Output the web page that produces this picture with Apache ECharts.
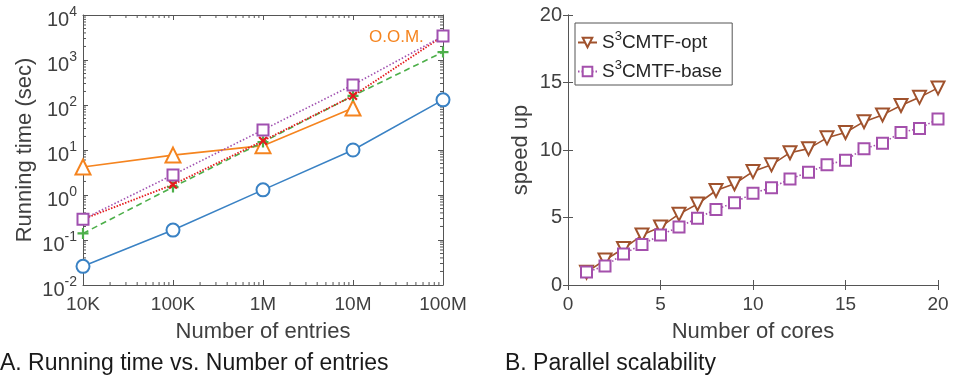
<!DOCTYPE html>
<html>
<head>
<meta charset="utf-8">
<script src="https://cdn.jsdelivr.net/npm/echarts@6/dist/echarts.min.js"></script>
<style>
  html, body { margin: 0; padding: 0; background: #fff; }
  #chart { width: 963px; height: 381px; }
</style>
</head>
<body>
<div id="chart"></div>
<script>
// Panel A: running time (sec) vs number of entries (log-log)
const entries = [1e4, 1e5, 1e6, 1e7, 1e8]
const entryLabels = { 4: "10K", 5: "100K", 6: "1M", 7: "10M", 8: "100M" }
const timeBlue = [0.026, 0.166, 1.3, 10, 130]
const timeOrange = [4.2, 7.7, 12.5, 86]
const timeGreen = [0.14, 1.5, 15, 160, 1500]
const timeRed = [0.29, 1.7, 16, 160, 3400]
const timePurple = [0.29, 2.8, 28, 280, 3400]

// Panel B: speed up vs number of cores
const cores = [1, 2, 3, 4, 5, 6, 7, 8, 9, 10, 11, 12, 13, 14, 15, 16, 17, 18, 19, 20]
const speedOpt = [0.95, 1.85, 2.7, 3.7, 4.3, 5.25, 6.0, 7.0, 7.5, 8.4, 8.9, 9.8, 10.1, 10.9, 11.3, 12.1, 12.6, 13.3, 13.9, 14.6]
const speedBase = [0.96, 1.4, 2.3, 3.0, 3.7, 4.3, 4.95, 5.6, 6.1, 6.8, 7.2, 7.85, 8.35, 8.9, 9.25, 10.1, 10.5, 11.3, 11.6, 12.3]

const FONT = "Liberation Sans, Arial, sans-serif"
const AXIS = "#555"
const TXT = "#404040"

const pair = (xs, ys) => ys.map((y, i) => [xs[i], y])

const plusPath = "path://M4,0H6V4H10V6H6V10H4V6H0V4H4Z"

const chart = echarts.init(document.getElementById("chart"))

const tickStyle = { show: true, inside: true, length: 5, lineStyle: { color: AXIS } }
const lineStyleAx = { show: true, lineStyle: { color: AXIS, width: 1 } }

// 10^n labels with a raised exponent
const expLabel = (v) => {
  const e = Math.round(Math.log10(v))
  return "{b|10}{s|" + e + "}"
}

const option = {
  animation: false,
  textStyle: { fontFamily: FONT },
  grid: [
    { left: 83, top: 15, width: 360, height: 270 },
    { left: 568, top: 15, width: 370, height: 270 },
  ],
  xAxis: [
    {
      type: "log", gridIndex: 0, min: 1e4, max: 1e8, logBase: 10, splitNumber: 4,
      axisLine: lineStyleAx, axisTick: tickStyle, splitLine: { show: false },
      axisLabel: {
        color: TXT, fontSize: 19, margin: 10, fontFamily: FONT,
        formatter: (v) => entryLabels[Math.round(Math.log10(v))] || "",
      },
      name: "Number of entries", nameLocation: "middle", nameGap: 36,
      nameTextStyle: { color: TXT, fontSize: 22, fontFamily: FONT },
    },
    {
      type: "log", gridIndex: 0, min: 1e4, max: 1e8, logBase: 10, splitNumber: 4, position: "top",
      axisLine: lineStyleAx, axisTick: tickStyle, splitLine: { show: false }, axisLabel: { show: false },
    },
    {
      type: "value", gridIndex: 1, min: 0, max: 20, interval: 5,
      axisLine: lineStyleAx, axisTick: tickStyle, splitLine: { show: false },
      axisLabel: { color: TXT, fontSize: 19, margin: 10, fontFamily: FONT },
      name: "Number of cores", nameLocation: "middle", nameGap: 36,
      nameTextStyle: { color: TXT, fontSize: 22, fontFamily: FONT },
    },
    {
      type: "value", gridIndex: 1, min: 0, max: 20, interval: 5, position: "top",
      axisLine: lineStyleAx, axisTick: tickStyle, splitLine: { show: false }, axisLabel: { show: false },
    },
  ],
  yAxis: [
    {
      type: "log", gridIndex: 0, min: 0.01, max: 1e4, logBase: 10, splitNumber: 6,
      axisLine: lineStyleAx, axisTick: tickStyle, splitLine: { show: false },
      axisLabel: {
        color: TXT, margin: 6, formatter: expLabel, padding: [10, 0, 0, 0],
        rich: {
          b: { fontSize: 20, color: TXT, fontFamily: FONT, lineHeight: 20, verticalAlign: "bottom" },
          s: { fontSize: 14, color: TXT, fontFamily: FONT, lineHeight: 14, padding: [0, 0, 11, 0], verticalAlign: "bottom" },
        },
      },
      name: "Running time (sec)", nameLocation: "middle", nameGap: 47,
      nameTextStyle: { color: TXT, fontSize: 22, fontFamily: FONT },
    },
    {
      type: "log", gridIndex: 0, min: 0.01, max: 1e4, logBase: 10, splitNumber: 6, position: "right",
      axisLine: lineStyleAx, axisTick: tickStyle, splitLine: { show: false }, axisLabel: { show: false },
    },
    {
      type: "value", gridIndex: 1, min: 0, max: 20, interval: 5,
      axisLine: lineStyleAx, axisTick: tickStyle, splitLine: { show: false },
      axisLabel: { color: TXT, fontSize: 20, margin: 6, fontFamily: FONT },
      name: "speed up", nameLocation: "middle", nameGap: 36,
      nameTextStyle: { color: TXT, fontSize: 22, fontFamily: FONT },
    },
    {
      type: "value", gridIndex: 1, min: 0, max: 20, interval: 5, position: "right",
      axisLine: lineStyleAx, axisTick: tickStyle, splitLine: { show: false }, axisLabel: { show: false },
    },
  ],
  legend: {
    data: ["S3CMTF-opt", "S3CMTF-base"],
    orient: "vertical",
    left: 575, top: 23,
    padding: [7, 10, 4, 2],
    itemGap: 7,
    itemWidth: 19, itemHeight: 12,
    borderColor: "#555", borderWidth: 1, borderRadius: 0,
    backgroundColor: "#fff",
    formatter: (name) => "{a|S}{s|3}{a|" + name.slice(2) + "}",
    textStyle: {
      rich: {
        a: { fontSize: 19, color: "#262626", fontFamily: FONT, lineHeight: 19, verticalAlign: "bottom" },
        s: { fontSize: 13, color: "#262626", fontFamily: FONT, lineHeight: 13, padding: [0, 0, 9, 0], verticalAlign: "bottom" },
      },
    },
  },
  series: [
    {
      name: "A-blue", type: "line", xAxisIndex: 0, yAxisIndex: 0, data: pair(entries, timeBlue),
      symbol: "emptyCircle", symbolSize: 13,
      lineStyle: { color: "#3A82C4", width: 1.6 },
      itemStyle: { color: "#3A82C4", borderWidth: 1.6 },
    },
    {
      name: "A-orange", type: "line", xAxisIndex: 0, yAxisIndex: 0, data: pair(entries, timeOrange),
      symbol: "emptyTriangle", symbolSize: 15,
      lineStyle: { color: "#F5841F", width: 1.6 },
      itemStyle: { color: "#F5841F", borderWidth: 1.6 },
    },
    {
      name: "A-green", type: "line", xAxisIndex: 0, yAxisIndex: 0, data: pair(entries, timeGreen),
      symbol: plusPath, symbolSize: 11,
      lineStyle: { color: "#4DAF4A", width: 1.6, type: [6, 4] },
      itemStyle: { color: "#4DAF4A" },
    },
    {
      name: "A-red", type: "line", xAxisIndex: 0, yAxisIndex: 0, data: pair(entries, timeRed),
      symbol: plusPath, symbolSize: 11, symbolRotate: 45,
      lineStyle: { color: "#E41A1C", width: 1.8, type: [1.5, 1.5] },
      itemStyle: { color: "#E41A1C" },
    },
    {
      name: "A-purple", type: "line", xAxisIndex: 0, yAxisIndex: 0, data: pair(entries, timePurple),
      symbol: "emptyRect", symbolSize: 11,
      lineStyle: { color: "#A050B0", width: 1.6, type: [1.5, 2] },
      itemStyle: { color: "#A050B0", borderWidth: 1.6 },
    },
    {
      name: "S3CMTF-opt", type: "line", xAxisIndex: 2, yAxisIndex: 2, data: pair(cores, speedOpt),
      symbol: "emptyTriangle", symbolSize: 13, symbolRotate: 180,
      lineStyle: { color: "#A0522D", width: 1.6 },
      itemStyle: { color: "#A0522D", borderWidth: 1.6 },
    },
    {
      name: "S3CMTF-base", type: "line", xAxisIndex: 2, yAxisIndex: 2, data: pair(cores, speedBase),
      symbol: "emptyRect", symbolSize: 11,
      lineStyle: { color: "#A450AC", width: 1.6, type: [1.5, 2] },
      itemStyle: { color: "#A450AC", borderWidth: 1.6 },
    },
  ],
}

chart.setOption(option)

// MATLAB-style log minor ticks and text annotations
const g = []
const minor = (p1, p2) => g.push({
  type: "line", shape: { x1: p1[0], y1: p1[1], x2: p2[0], y2: p2[1] },
  style: { stroke: AXIS, lineWidth: 1 }, silent: true,
})
const pxTop = chart.convertToPixel({ gridIndex: 0 }, [1e4, 1e4])
const pxBot = chart.convertToPixel({ gridIndex: 0 }, [1e8, 0.01])
for (let d = 4; d < 8; d++) {
  for (let k = 2; k <= 9; k++) {
    const x = chart.convertToPixel({ gridIndex: 0 }, [k * Math.pow(10, d), 1])[0]
    minor([x, pxBot[1]], [x, pxBot[1] - 3])
    minor([x, pxTop[1]], [x, pxTop[1] + 3])
  }
}
for (let d = -2; d < 4; d++) {
  for (let k = 2; k <= 9; k++) {
    const y = chart.convertToPixel({ gridIndex: 0 }, [1e5, k * Math.pow(10, d)])[1]
    minor([pxTop[0], y], [pxTop[0] + 3, y])
    minor([pxBot[0], y], [pxBot[0] - 3, y])
  }
}
g.push({
  type: "text", left: 369, top: 29,
  style: { text: "O.O.M.", fill: "#F5841F", font: "17px " + FONT },
})
g.push({
  type: "text", left: 0, top: 352,
  style: { text: "A. Running time vs. Number of entries", fill: "#1a1a1a", font: "23px " + FONT },
})
g.push({
  type: "text", left: 505, top: 352,
  style: { text: "B. Parallel scalability", fill: "#1a1a1a", font: "23px " + FONT },
})
chart.setOption({ graphic: g })
</script>
</body>
</html>
